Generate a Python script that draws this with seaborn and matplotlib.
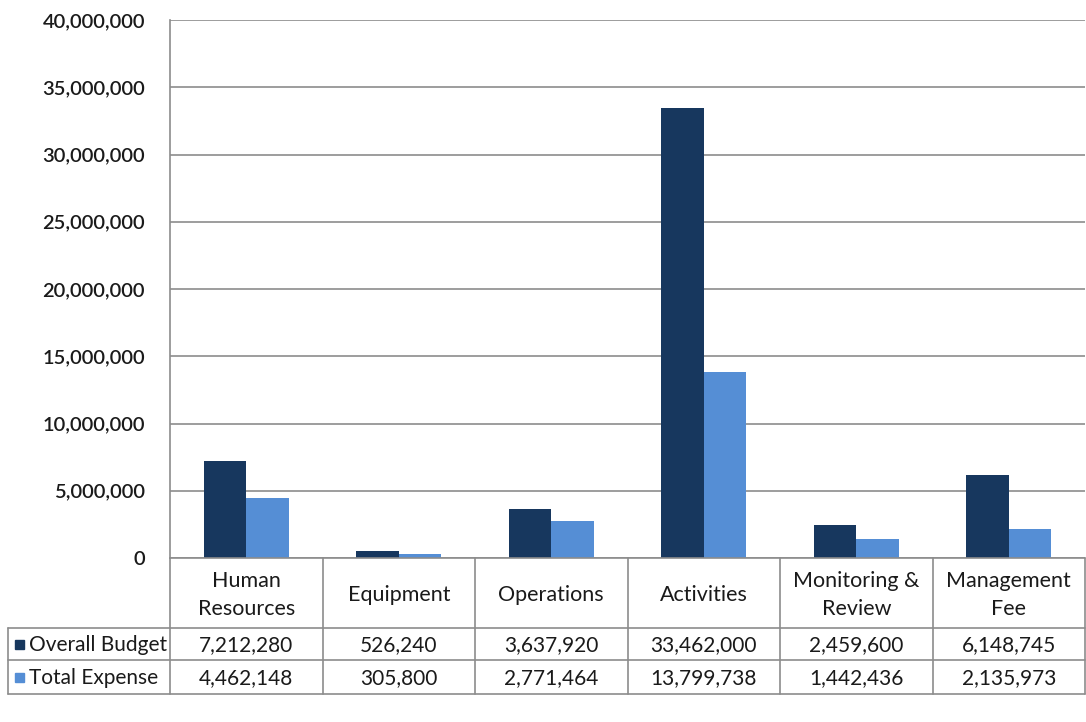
import matplotlib
matplotlib.use("Agg")
import matplotlib.pyplot as plt
import matplotlib.ticker as mticker
import seaborn as sns
import pandas as pd

# Budget categories and the two series shown in the chart and its data table
categories = ["Human\nResources", "Equipment", "Operations", "Activities",
              "Monitoring &\nReview", "Management\nFee"]
overall_budget = [7212280, 526240, 3637920, 33462000, 2459600, 6148745]
total_expense = [4462148, 305800, 2771464, 13799738, 1442436, 2135973]
series_names = ["Overall Budget", "Total Expense"]
y_ticks = [0, 5000000, 10000000, 15000000, 20000000, 25000000,
           30000000, 35000000, 40000000]

colors = ["#17375E", "#558ED5"]
grid_color = "#8C8C8C"
text_color = "#1A1A1A"

df = pd.DataFrame({
    "category": categories * 2,
    "series": [series_names[0]] * len(categories) + [series_names[1]] * len(categories),
    "value": overall_budget + total_expense,
})

sns.set_theme(style="white")
plt.rcParams["font.family"] = ["Lato", "DejaVu Sans"]

W, H = 1086, 722
fig = plt.figure(figsize=(W / 100, H / 100), dpi=100)

# plot area geometry in pixels
ax_l, ax_r, ax_t, ax_b = 170, 1085, 20, 558
ax = fig.add_axes([ax_l / W, 1 - ax_b / H, (ax_r - ax_l) / W, (ax_b - ax_t) / H])

sns.barplot(data=df, x="category", y="value", hue="series", palette=colors,
            width=0.56, gap=0, saturation=1, legend=False, linewidth=0, ax=ax)

ax.set_xlim(-0.5, len(categories) - 0.5)
ax.set_ylim(0, 40000000)
ax.set_yticks(y_ticks)
ax.yaxis.set_major_formatter(mticker.FuncFormatter(lambda v, p: f"{int(v):,}"))
ax.tick_params(axis="y", length=0, pad=18, labelsize=14.5, labelcolor=text_color)
for lbl in ax.get_yticklabels():
    lbl.set_fontweight("semibold")
ax.set_xticks([])
ax.set_xlabel("")
ax.set_ylabel("")
ax.grid(axis="y", color=grid_color, linewidth=1.2)
ax.set_axisbelow(True)
for side in ["top", "right", "bottom"]:
    ax.spines[side].set_visible(False)
ax.spines["left"].set_color(grid_color)
ax.spines["left"].set_linewidth(1.2)

# data table below the plot, y measured in pixels down from the plot bottom
row_cat, row_b, row_e = 70, 102, 136
tax = fig.add_axes([ax_l / W, 1 - (ax_b + row_e) / H, (ax_r - ax_l) / W, row_e / H])
tax.set_xlim(-0.5, len(categories) - 0.5)
tax.set_ylim(row_e, 0)
tax.axis("off")

col_w = (ax_r - ax_l) / len(categories)
left_x = -0.5 - (ax_l - 8) / col_w
line_kw = dict(color=grid_color, linewidth=1.2, clip_on=False)

tax.plot([-0.5, 5.5], [0, 0], **line_kw)
for yy in (row_cat, row_b, row_e):
    tax.plot([left_x, 5.5], [yy, yy], **line_kw)
for i in range(len(categories) + 1):
    tax.plot([i - 0.5, i - 0.5], [0, row_e], **line_kw)
tax.plot([left_x, left_x], [row_cat, row_e], **line_kw)

for i, cat in enumerate(categories):
    tax.text(i, row_cat / 2 + 2, cat, ha="center", va="center", fontsize=15.5,
             color=text_color, linespacing=1.45)
    tax.text(i, (row_cat + row_b) / 2 + 1, f"{overall_budget[i]:,}", ha="center",
             va="center", fontsize=15, color=text_color)
    tax.text(i, (row_b + row_e) / 2 + 1, f"{total_expense[i]:,}", ha="center",
             va="center", fontsize=15, color=text_color)

# legend keys inside the table's first column
key_w = 9 / col_w
for (y0, y1), name, c in zip([(row_cat, row_b), (row_b, row_e)], series_names, colors):
    yc = (y0 + y1) / 2
    kx = -0.5 - (ax_l - 15) / col_w
    tax.add_patch(plt.Rectangle((kx, yc - 4.5), key_w, 9, color=c, clip_on=False))
    tax.text(-0.5 - (ax_l - 29) / col_w, yc + 1, name, ha="left", va="center",
             fontsize=15, color=text_color)

fig.savefig("out.png", dpi=100, facecolor="white")
